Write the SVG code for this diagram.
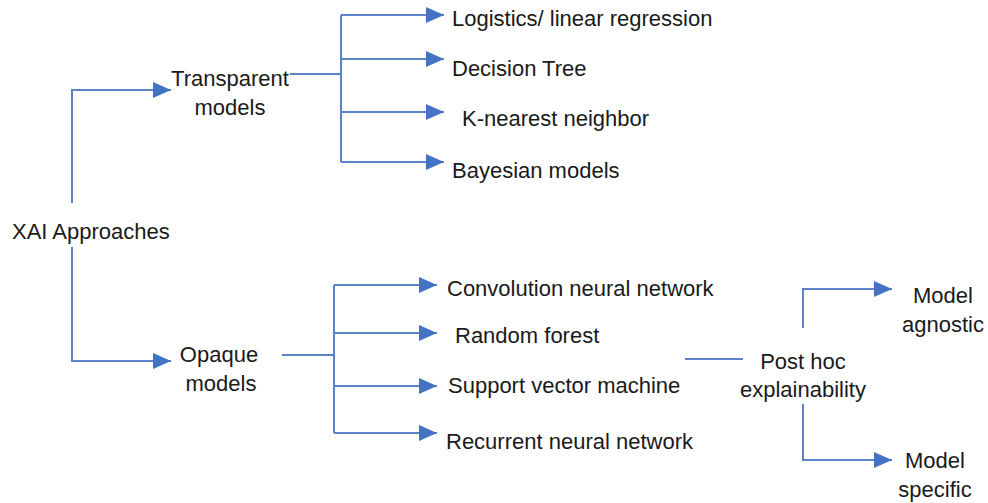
<svg xmlns="http://www.w3.org/2000/svg" width="988" height="503" viewBox="0 0 988 503">
<style>
text{font-family:"Liberation Sans",Arial,sans-serif;font-size:22px;fill:#1a1a1a}
.m{text-anchor:middle}
.c{fill:none;stroke:#5b84c8;stroke-width:2}
.a{marker-end:url(#ah)}
</style>
<defs>
<marker id="ah" markerUnits="userSpaceOnUse" viewBox="0 0 18 16" markerWidth="18" markerHeight="16" refX="18" refY="8" orient="auto">
<path d="M0,0 L18,8 L0,16 z" fill="#4472c4"/>
</marker>
</defs>
<rect width="988" height="503" fill="#fff"/>
<g id="connectors">
<path class="c a" d="M72,203 V90 H171"/>
<path class="c a" d="M72,247 V361 H171"/>
<path class="c" d="M290,74 H341"/>
<path class="c" d="M341,15 V162"/>
<path class="c a" d="M341,15 H444"/>
<path class="c a" d="M341,59 H444"/>
<path class="c a" d="M341,112 H444"/>
<path class="c a" d="M341,162 H444"/>
<path class="c" d="M282,355 H334"/>
<path class="c" d="M334,285 V433"/>
<path class="c a" d="M334,285 H437"/>
<path class="c a" d="M334,333 H437"/>
<path class="c a" d="M334,386 H437"/>
<path class="c a" d="M334,433 H437"/>
<path class="c" d="M685,359 H743"/>
<path class="c a" d="M803,328 V289 H892"/>
<path class="c a" d="M803,404 V460 H892"/>
</g>
<g id="xai"><text x="12" y="239">XAI Approaches</text></g>
<g id="transparent"><text class="m" x="230" y="86">Transparent</text><text class="m" x="230" y="115">models</text></g>
<g id="logistics"><text x="452" y="26">Logistics/ linear regression</text></g>
<g id="decision"><text x="452" y="76">Decision Tree</text></g>
<g id="knn"><text x="462" y="126">K-nearest neighbor</text></g>
<g id="bayesian"><text x="452" y="178">Bayesian models</text></g>
<g id="opaque"><text class="m" x="219" y="362">Opaque</text><text class="m" x="221" y="391">models</text></g>
<g id="cnn"><text x="447" y="296">Convolution neural network</text></g>
<g id="rf"><text x="455" y="343">Random forest</text></g>
<g id="svm"><text x="448" y="393">Support vector machine</text></g>
<g id="rnn"><text x="446" y="449">Recurrent neural network</text></g>
<g id="posthoc"><text class="m" x="803" y="369">Post hoc</text><text class="m" x="803" y="397">explainability</text></g>
<g id="agnostic"><text class="m" x="943" y="303">Model</text><text class="m" x="943" y="332">agnostic</text></g>
<g id="specific"><text class="m" x="935" y="468">Model</text><text class="m" x="935" y="497">specific</text></g>
</svg>
